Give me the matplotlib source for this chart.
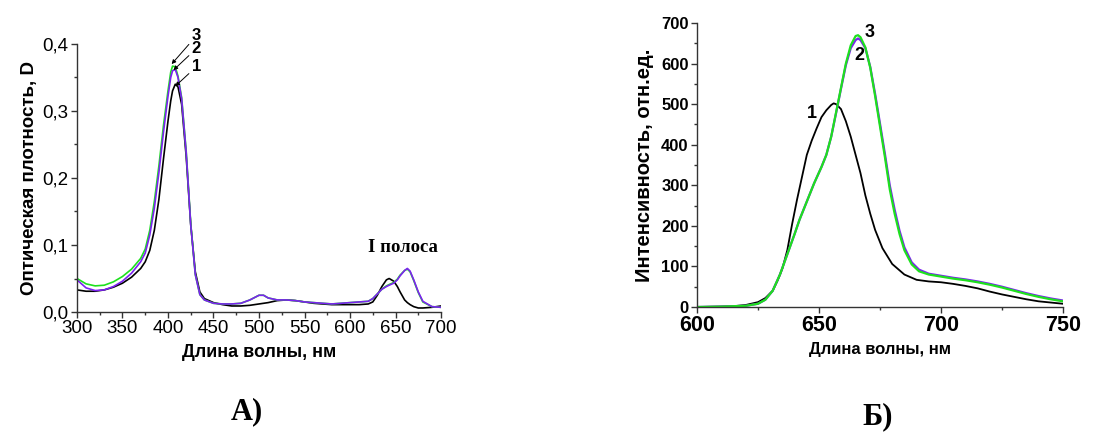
import numpy as np
import matplotlib.pyplot as plt
from matplotlib.ticker import MultipleLocator, FuncFormatter

# ---- панель А: поглощение ----
wl_abs = [300, 310, 320, 330, 340, 350, 360, 370, 375, 380, 385, 390, 395, 400, 403, 405, 408,
          411, 415, 420, 425, 430, 435, 440, 450, 460, 470, 480, 490, 500, 505, 510, 520, 530,
          540, 550, 560, 570, 580, 590, 600, 610, 620, 625, 630, 635, 640, 643, 648, 652, 655,
          660, 663, 666, 670, 675, 680, 690, 700]
abs1 = [0.033, 0.031, 0.031, 0.033, 0.037, 0.043, 0.052, 0.065, 0.075, 0.092, 0.122, 0.168,
        0.228, 0.285, 0.315, 0.330, 0.340, 0.336, 0.310, 0.232, 0.130, 0.060, 0.030, 0.020,
        0.014, 0.011, 0.009, 0.009, 0.010, 0.012, 0.013, 0.014, 0.017, 0.018, 0.017, 0.015,
        0.013, 0.012, 0.011, 0.011, 0.011, 0.011, 0.012, 0.015, 0.025, 0.038, 0.048, 0.050,
        0.046, 0.038, 0.030, 0.018, 0.014, 0.011, 0.008, 0.006, 0.006, 0.007, 0.009]
abs2 = [0.048, 0.036, 0.032, 0.033, 0.038, 0.046, 0.058, 0.075, 0.088, 0.115, 0.155, 0.208,
        0.268, 0.322, 0.350, 0.360, 0.362, 0.350, 0.318, 0.238, 0.130, 0.056, 0.026, 0.018,
        0.013, 0.012, 0.012, 0.013, 0.018, 0.025, 0.025, 0.021, 0.018, 0.018, 0.017, 0.015,
        0.014, 0.013, 0.012, 0.013, 0.014, 0.015, 0.016, 0.020, 0.027, 0.034, 0.038, 0.040,
        0.043, 0.048, 0.054, 0.062, 0.065, 0.061, 0.048, 0.030, 0.016, 0.008, 0.007]
abs3 = [0.050, 0.042, 0.039, 0.040, 0.045, 0.053, 0.064, 0.080, 0.094, 0.122, 0.165, 0.218,
        0.278, 0.330, 0.358, 0.367, 0.366, 0.352, 0.320, 0.240, 0.132, 0.056, 0.026, 0.018,
        0.013, 0.012, 0.012, 0.013, 0.018, 0.025, 0.025, 0.021, 0.018, 0.018, 0.017, 0.015,
        0.014, 0.013, 0.012, 0.013, 0.014, 0.015, 0.016, 0.020, 0.027, 0.034, 0.039, 0.041,
        0.044, 0.049, 0.055, 0.062, 0.064, 0.060, 0.047, 0.029, 0.015, 0.008, 0.007]

# ---- панель Б: флуоресценция ----
wl_fl1 = [600, 605, 610, 615, 620, 625, 628, 631, 633, 635, 637, 639, 641, 643, 645, 647, 649,
          651, 653, 655, 656, 657, 659, 661, 663, 665, 667, 669, 671, 673, 676, 680, 685, 690,
          695, 700, 705, 710, 715, 720, 725, 730, 735, 740, 745, 750]
fl1 = [0, 0.5, 1, 2, 5, 12, 22, 40, 65, 95, 140, 205, 265, 320, 375, 410, 440, 468, 485, 498,
       502, 500, 488, 458, 420, 375, 330, 275, 230, 190, 145, 106, 80, 67, 63, 61, 57, 52, 46,
       38, 31, 25, 19, 14, 11, 8]

wl_fl23 = [600, 610, 615, 620, 625, 628, 631, 634, 637, 640, 642, 645, 648, 651, 653, 655, 657,
           659, 661, 663, 665, 666, 667, 669, 671, 673, 675, 677, 679, 681, 683, 685, 688, 691,
           695, 700, 705, 710, 715, 720, 725, 730, 735, 740, 745, 750]
fl2 = [0, 1, 2, 3, 8, 18, 40, 80, 130, 180, 215, 260, 305, 345, 375, 420, 478, 538, 596, 638,
       658, 662, 658, 638, 592, 525, 452, 378, 300, 240, 188, 147, 110, 92, 82, 77, 72, 68, 63,
       57, 50, 42, 34, 27, 21, 16]
fl3 = [0, 1, 2, 3, 8, 18, 40, 80, 130, 180, 215, 260, 305, 345, 375, 420, 480, 540, 600, 645,
       668, 670, 665, 640, 590, 520, 445, 370, 290, 230, 180, 140, 105, 88, 80, 75, 70, 66, 61,
       55, 48, 40, 32, 25, 19, 14]

c_black = 'black'
c_purple = '#7b22f0'
c_green = '#1ee01e'

fig = plt.figure(figsize=(11.14, 4.43), dpi=100)
plt.rcParams['font.family'] = ['Liberation Sans', 'DejaVu Sans']

def style_axes(ax):
    for s in ['top', 'right']:
        ax.spines[s].set_visible(False)
    for s in ['left', 'bottom']:
        ax.spines[s].set_linewidth(1.0)
        ax.spines[s].set_color('#333333')
    ax.tick_params(which='major', direction='out', length=4, width=1, color='#333333')
    ax.tick_params(which='minor', direction='out', length=2.5, width=1, color='#333333')

# --- А ---
ax1 = fig.add_axes([0.0691, 0.2957, 0.3268, 0.605])
ax1.plot(wl_abs, abs1, color=c_black, lw=1.2)
ax1.plot(wl_abs, abs3, color=c_green, lw=1.2)
ax1.plot(wl_abs, abs2, color=c_purple, lw=1.2)
ax1.set_xlim(300, 700)
ax1.set_ylim(0, 0.4)
ax1.xaxis.set_major_locator(MultipleLocator(50))
ax1.xaxis.set_minor_locator(MultipleLocator(25))
ax1.yaxis.set_major_locator(MultipleLocator(0.1))
ax1.yaxis.set_minor_locator(MultipleLocator(0.05))
ax1.yaxis.set_major_formatter(FuncFormatter(lambda v, p: ('%.1f' % v).replace('.', ',')))
style_axes(ax1)
ax1.tick_params(labelsize=13.5, pad=2)
ax1.set_xlabel('Длина волны, нм', fontsize=13, fontweight='bold', labelpad=5)
ax1.set_ylabel('Оптическая плотность, D', fontsize=13.5, fontweight='bold', labelpad=3)

arr = dict(arrowstyle='-|>', color='black', lw=0.7, mutation_scale=6, shrinkA=0, shrinkB=0)
ax1.annotate('3', xy=(404, 0.370), xytext=(426, 0.412), arrowprops=arr,
             fontsize=12, fontweight='bold', ha='left', va='center', annotation_clip=False)
ax1.annotate('2', xy=(406, 0.361), xytext=(426, 0.393), arrowprops=arr,
             fontsize=12, fontweight='bold', ha='left', va='center', annotation_clip=False)
ax1.annotate('1', xy=(408, 0.337), xytext=(426, 0.366), arrowprops=arr,
             fontsize=12, fontweight='bold', ha='left', va='center', annotation_clip=False)
ax1.text(658, 0.096, 'I полоса', fontsize=13.5, fontweight='bold', ha='center', va='center',
         family=['Liberation Serif', 'DejaVu Serif'])

# --- Б ---
ax2 = fig.add_axes([0.6257, 0.307, 0.3285, 0.641])
ax2.plot(wl_fl1, fl1, color=c_black, lw=1.3)
ax2.plot(wl_fl23, fl2, color=c_purple, lw=1.6)
ax2.plot(wl_fl23, fl3, color=c_green, lw=1.6)
ax2.set_xlim(600, 750)
ax2.set_ylim(0, 700)
ax2.xaxis.set_major_locator(MultipleLocator(50))
ax2.xaxis.set_minor_locator(MultipleLocator(25))
ax2.yaxis.set_major_locator(MultipleLocator(100))
ax2.yaxis.set_minor_locator(MultipleLocator(50))
style_axes(ax2)
ax2.tick_params(axis='x', labelsize=15.5, pad=2)
ax2.tick_params(axis='y', labelsize=12, pad=2)
for lab in ax2.get_xticklabels() + ax2.get_yticklabels():
    lab.set_fontweight('bold')
ax2.set_xlabel('Длина волны, нм', fontsize=12, fontweight='bold', labelpad=4)
ax2.set_ylabel('Интенсивность, отн.ед.', fontsize=14.5, fontweight='bold', labelpad=5)
ax2.text(647, 478, '1', fontsize=13, fontweight='bold', ha='center', va='center')
ax2.text(666.4, 619, '2', fontsize=13, fontweight='bold', ha='center', va='center')
ax2.text(670.6, 677, '3', fontsize=13, fontweight='bold', ha='center', va='center')

# подписи панелей
fig.text(0.222, 0.07, 'А)', fontsize=22, fontweight='bold', ha='center', va='center',
         family=['Liberation Serif', 'DejaVu Serif'])
fig.text(0.788, 0.059, 'Б)', fontsize=22, fontweight='bold', ha='center', va='center',
         family=['Liberation Serif', 'DejaVu Serif'])

fig.savefig('out.png', dpi=100)
